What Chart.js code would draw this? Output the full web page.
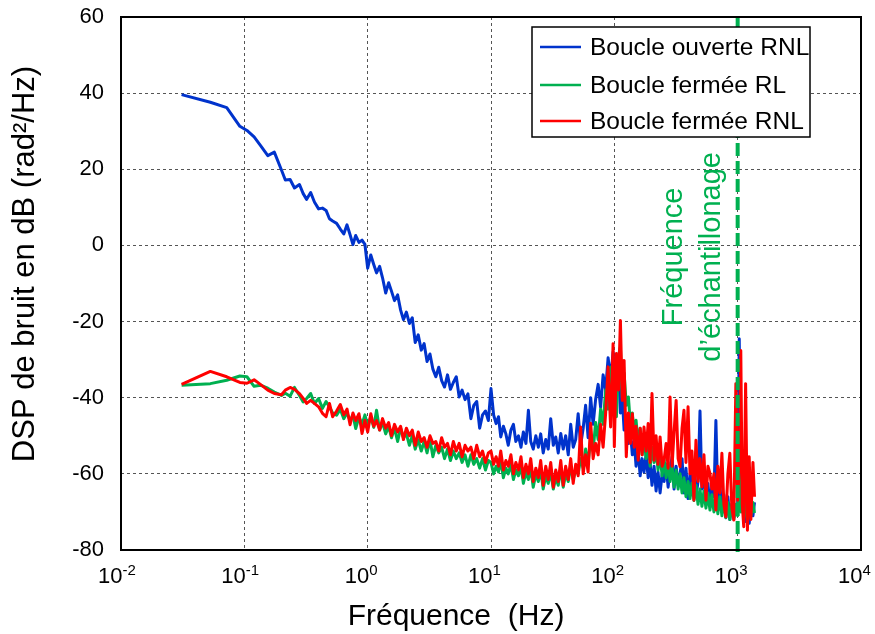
<!DOCTYPE html>
<html>
<head>
<meta charset="utf-8">
<script src="https://cdn.jsdelivr.net/npm/chart.js@4.4.1/dist/chart.umd.min.js"></script>
<style>
  html, body { margin: 0; padding: 0; background: #fff; }
  #wrap { width: 875px; height: 634px; position: relative; }
</style>
</head>
<body>
<div id="wrap"><canvas id="dspChart"></canvas></div>
<script>
const FONT = "'Liberation Sans', Arial, Helvetica, sans-serif";

// ═══════════════════════════════════════════
// DATA (Hz / dB)
// ═══════════════════════════════════════════
const freqHz = [
  // 0.03 – 1 Hz
  0.031, 0.053, 0.072, 0.092, 0.105, 0.12, 0.135, 0.155, 0.175, 0.2,
  0.215, 0.235, 0.255, 0.28, 0.3, 0.32, 0.345, 0.37, 0.4, 0.43,
  0.46, 0.49, 0.52, 0.56, 0.6, 0.64, 0.68, 0.72, 0.76, 0.8,
  0.85, 0.9, 0.95,
  // 1 – 10 Hz
  1.0, 1.06, 1.12, 1.18, 1.25, 1.32, 1.4, 1.48, 1.56, 1.65,
  1.75, 1.85, 1.95, 2.06, 2.18, 2.3, 2.43, 2.57, 2.72, 2.87,
  3.03, 3.2, 3.38, 3.57, 3.77, 3.98, 4.2, 4.44, 4.69, 4.95,
  5.23, 5.52, 5.83, 6.16, 6.5, 6.87, 7.25, 7.66, 8.09, 8.54,
  9.02, 9.52,
  // 10 – 100 Hz
  10, 10.5, 11, 11.5, 12, 12.6, 13.2, 13.8, 14.5, 15.2,
  15.9, 16.7, 17.5, 18.3, 19.2, 20.1, 21, 22, 23.1, 24.2,
  25.3, 26.5, 27.8, 29.1, 30.5, 32, 33.5, 35.1, 36.8, 38.5,
  40.3, 42.3, 44.3, 46.4, 48.6, 50.9, 53.3, 55.9, 58.5, 61.3,
  64.3, 67.3, 70.5, 73.9, 77.4, 81.1, 85, 89, 93.3, 97.7,
  // 100 – 1400 Hz
  100, 104, 108, 112, 116, 120, 125, 130, 135, 140,
  145, 150, 156, 162, 168, 174, 181, 188, 195, 202,
  210, 218, 226, 235, 244, 253, 263, 273, 283, 294,
  305, 317, 329, 341, 354, 367, 381, 396, 411, 426,
  442, 459, 477, 495, 513, 533, 553, 574, 596, 618,
  642, 666, 691, 718, 745, 773, 802, 833, 864, 897,
  931, 967, 1000, 1030, 1060, 1090, 1120, 1160, 1200, 1240,
  1280, 1330, 1370
];

// Boucle ouverte RNL
const openLoopRNL = [
  39.6, 37.6, 36.2, 31.3, 30.2, 28.5, 26.3, 23.6, 24.5, 19.8,
  17.2, 17.3, 15.1, 16.0, 13.6, 12.1, 13.9, 11.4, 9.6, 9.8,
  9.2, 7.0, 6.4, 5.8, 4.3, 3.0, 5.4, 2.8, 0.2, 2.6,
  0.8, 1.4, 0.3,
  -6.0, -2.5, -5.0, -7.2, -5.5, -8.5, -12.5, -9.8, -12.0, -14.5,
  -13.0, -17.0, -19.5, -17.5, -20.5, -19.0, -25.5, -23.5, -27.5, -25.8,
  -30.5, -28.5, -32.5, -34.5, -32.0, -35.5, -37.2, -34.0, -37.8, -36.0,
  -34.5, -39.8, -38.0, -40.5, -39.0, -45.5, -42.0, -41.0, -48.0, -44.5,
  -43.5, -46.0,
  -37.6, -44.5, -46.8, -45.0, -50.3, -47.5, -49.5, -52.5, -48.5, -47.0,
  -51.5, -50.0, -53.0, -49.0, -52.0, -43.3, -51.5, -53.5, -50.0, -53.0,
  -49.5, -54.5, -51.0, -53.5, -45.5, -52.5, -50.3, -54.5, -49.4, -53.5,
  -50.0, -55.0, -47.0, -53.0, -51.0, -44.2, -52.5, -48.0, -42.0, -50.5,
  -40.0, -47.0, -40.5, -36.5, -42.5, -34.0, -38.0, -29.5, -35.0, -28.0,
  -33.0, -38.0, -30.5, -44.0, -40.0, -48.5, -45.0, -52.0, -49.0, -55.0,
  -51.5, -58.0, -54.0, -60.5, -56.0, -59.5, -55.0, -61.0, -57.0, -63.0,
  -58.0, -64.5, -59.5, -65.0, -60.0, -62.0, -57.5, -63.5, -59.0, -55.5,
  -64.0, -58.0, -63.0, -60.0, -56.0, -65.0, -58.5, -66.5, -60.0, -64.0,
  -57.5, -66.0, -62.0, -43.5, -64.0, -60.0, -67.0, -62.5, -68.5, -63.0,
  -66.0, -46.0, -67.5, -63.0, -70.0, -65.5, -71.5, -66.0, -72.0, -68.0,
  -71.5, -69.0, -68.0, -24.5, -62.0, -70.0, -66.0, -72.5, -67.0, -73.0,
  -68.0, -71.0, -67.5
];

// Boucle fermée RL
const closedLoopRL = [
  -36.7, -36.3, -35.4, -34.3, -34.5, -37.0, -36.7, -37.5, -38.5, -39.4,
  -38.8, -39.6, -37.3, -39.4, -41.1, -40.2, -38.9, -41.5, -40.2, -42.8,
  -41.0, -42.4, -44.0, -44.6, -43.0, -45.5, -44.0, -46.0, -44.5, -48.1,
  -45.0, -47.0, -44.5,
  -47.5, -45.0, -47.8, -43.3, -48.5, -46.5, -49.5, -47.5, -50.5, -48.0,
  -51.5, -48.0, -50.5, -49.5, -52.5, -50.0, -53.5, -51.0, -54.0, -51.5,
  -54.5, -51.0, -55.5, -52.5, -54.5, -53.0, -56.0, -53.5, -56.5, -54.0,
  -56.0, -54.5, -57.0, -55.0, -58.0, -55.0, -57.5, -56.0, -58.5, -56.0,
  -59.0, -56.5,
  -57.0, -60.0, -58.0, -59.5, -56.5, -61.0, -58.5, -60.0, -57.5, -61.5,
  -59.0, -60.5, -58.0, -62.5, -59.5, -61.5, -58.5, -63.5, -60.0, -62.0,
  -59.0, -64.0, -60.5, -62.5, -59.5, -64.0, -61.0, -63.0, -58.5, -63.5,
  -60.0, -62.0, -58.0, -61.5, -59.0, -60.0, -56.0, -58.5, -53.5, -57.0,
  -51.0, -54.0, -46.5, -51.0, -43.0, -47.0, -38.0, -43.0, -32.0, -40.0,
  -33.0, -45.0, -29.0, -26.7, -40.0, -33.5, -42.0, -39.8, -47.0, -44.0,
  -50.0, -45.9, -52.0, -48.0, -55.0, -50.5, -56.0, -52.0, -58.0, -53.0,
  -57.0, -53.5, -59.0, -55.0, -60.5, -56.0, -61.0, -57.0, -62.0, -58.0,
  -63.5, -59.0, -64.0, -60.0, -65.0, -61.0, -66.0, -62.0, -66.5, -62.5,
  -67.0, -63.0, -68.0, -64.0, -68.5, -64.5, -69.0, -65.0, -69.5, -65.5,
  -70.0, -66.0, -70.5, -66.0, -71.0, -67.0, -71.5, -67.5, -72.0, -68.0,
  -72.0, -68.0, -71.0, -60.0, -70.0, -66.0, -71.5, -66.5, -72.0, -67.0,
  -71.0, -67.5, -70.3
];

// Boucle fermée RNL
const closedLoopRNL = [
  -36.5, -33.1, -34.5, -36.0, -36.2, -35.3, -36.5, -38.0, -38.9, -39.2,
  -38.0, -37.3, -37.8, -38.9, -40.2, -41.5, -40.7, -41.5, -42.4, -44.1,
  -45.0, -41.5, -45.0, -43.5, -41.8, -44.5, -43.0, -47.1, -44.0, -46.0,
  -44.2, -49.4, -46.0,
  -49.0, -44.2, -47.5, -46.0, -48.5, -45.5, -48.0, -46.5, -50.0, -47.0,
  -49.0, -47.5, -51.0, -48.0, -50.0, -48.5, -52.5, -49.0, -51.5, -50.5,
  -53.0, -50.0, -52.0, -51.5, -54.0, -50.5, -53.0, -52.0, -55.0, -51.5,
  -54.0, -52.0, -55.5, -52.5, -54.0, -53.0, -56.0, -52.5, -55.5, -54.0,
  -57.0, -54.5,
  -54.0, -57.5, -55.5, -58.0, -54.0, -59.0, -56.5, -58.0, -55.0, -60.0,
  -57.0, -59.0, -55.5, -61.0, -57.5, -60.0, -56.0, -62.0, -58.5, -61.0,
  -56.5, -63.0, -58.0, -61.5, -57.0, -63.5, -59.0, -62.0, -56.5, -63.0,
  -58.0, -61.5, -56.0, -62.5, -57.5, -60.5, -47.7, -60.0, -55.0, -59.5,
  -46.7, -56.0, -52.0, -55.0, -47.0, -53.0, -44.2, -31.9, -47.7, -25.8,
  -52.9, -28.4, -38.0, -19.7, -40.7, -30.2, -55.5, -44.0, -52.0, -44.2,
  -53.0, -47.5, -56.4, -48.0, -55.0, -47.7, -54.0, -46.8, -57.0, -38.9,
  -56.4, -50.0, -57.5, -50.3, -58.0, -56.4, -52.0, -58.5, -39.8, -58.0,
  -49.0, -40.7, -56.0, -58.1, -48.0, -43.3, -57.0, -42.4, -60.0, -54.0,
  -66.9, -51.2, -62.0, -56.0, -63.4, -55.0, -66.9, -58.0, -59.9, -64.0,
  -60.0, -69.5, -58.0, -65.0, -54.6, -68.0, -71.3, -60.0, -54.6, -69.0,
  -72.1, -36.3, -66.9, -58.0, -27.6, -68.0, -73.9, -36.3, -74.8, -55.5,
  -72.0, -57.0, -66.0
];

const seriesLabels = ['Boucle ouverte RNL', 'Boucle fermée RL', 'Boucle fermée RNL'];
const seriesColors = ['#0033CC', '#00B050', '#FF0000'];

const xTickValues = [0.01, 0.1, 1, 10, 100, 1000, 10000];
const xTickExponents = ['-2', '-1', '0', '1', '2', '3', '4'];
const yMin = -80, yMax = 60, yStep = 20;

const samplingFreqHz = 1000;
const samplingLineDb = [60, -81.5];
const samplingLabel = ['Fréquence', 'd’échantillonage'];
const xTitle = 'Fréquence  (Hz)';
const yTitle = 'DSP de bruit en dB (rad²/Hz)';

// ═══════════════════════════════════════════
// DATASETS
// ═══════════════════════════════════════════
const toPoints = vals => freqHz.map((f, i) => ({ x: f, y: vals[i] }));
const seriesValues = [openLoopRNL, closedLoopRL, closedLoopRNL];

const datasets = seriesValues.map((vals, i) => ({
  label: seriesLabels[i],
  data: toPoints(vals),
  borderColor: seriesColors[i],
  backgroundColor: seriesColors[i],
  borderWidth: 3,
  borderJoinStyle: 'round',
  pointRadius: 0,
  tension: 0,
  order: 3 - i   // red on top, blue underneath
}));

// sampling frequency marker (dashed green vertical)
datasets.push({
  label: 'fe',
  data: samplingLineDb.map(v => ({ x: samplingFreqHz, y: v })),
  borderColor: '#00B050',
  borderWidth: 4,
  borderDash: [13, 5],
  pointRadius: 0,
  clip: false,
  order: 0
});

// frame, tick labels with exponents, titles, annotation, legend box
const decorations = {
  id: 'decorations',
  afterDatasetsDraw(chart) {
    const { ctx, chartArea: a, scales: { x, y } } = chart;
    ctx.save();

    // plot frame
    ctx.strokeStyle = '#000';
    ctx.lineWidth = 2;
    ctx.strokeRect(a.left, a.top, a.right - a.left, a.bottom - a.top);

    // x tick labels: 10^n
    ctx.fillStyle = '#000';
    ctx.textBaseline = 'alphabetic';
    xTickValues.forEach((v, i) => {
      const px = x.getPixelForValue(v);
      ctx.font = `22px ${FONT}`;
      ctx.textAlign = 'right';
      ctx.fillText('10', px + 1.5, a.bottom + 33);
      ctx.font = `15px ${FONT}`;
      ctx.textAlign = 'left';
      ctx.fillText(xTickExponents[i], px + 1.5, a.bottom + 25);
    });

    // axis titles
    ctx.textAlign = 'center';
    ctx.textBaseline = 'middle';
    ctx.font = `30px ${FONT}`;
    ctx.fillText(xTitle, 456, a.bottom + 67);
    ctx.save();
    ctx.translate(25, 264);
    ctx.rotate(-Math.PI / 2);
    ctx.font = `31px ${FONT}`;
    ctx.fillText(yTitle, 0, 0);
    ctx.restore();

    // "Fréquence d'échantillonage" annotation
    const fx = x.getPixelForValue(samplingFreqHz);
    const fy = y.getPixelForValue(-3);
    ctx.save();
    ctx.translate(fx, fy);
    ctx.rotate(-Math.PI / 2);
    ctx.fillStyle = '#00B050';
    ctx.font = `29px ${FONT}`;
    ctx.textAlign = 'center';
    ctx.textBaseline = 'alphabetic';
    ctx.fillText(samplingLabel[0], 0, -56);
    ctx.fillText(samplingLabel[1], 0, -18);
    ctx.restore();

    // legend box inside the plot
    const lx = a.right - 329, ly = a.top + 10, bw = 278, bh = 110;
    const rows = [20, 58, 94];
    ctx.fillStyle = '#fff';
    ctx.fillRect(lx, ly, bw, bh);
    ctx.textAlign = 'left';
    ctx.textBaseline = 'middle';
    ctx.font = `24.5px ${FONT}`;
    seriesLabels.forEach((lab, i) => {
      const ry = ly + rows[i];
      ctx.strokeStyle = seriesColors[i];
      ctx.lineWidth = 2.5;
      ctx.beginPath();
      ctx.moveTo(lx + 8, ry);
      ctx.lineTo(lx + 49, ry);
      ctx.stroke();
      ctx.fillStyle = '#000';
      ctx.fillText(lab, lx + 58, ry + 1);
    });
    ctx.strokeStyle = '#000';
    ctx.lineWidth = 1.5;
    ctx.strokeRect(lx, ly, bw, bh);

    ctx.restore();
  }
};

const gridOpts = { color: '#555', lineWidth: 1, drawTicks: false };
const borderOpts = { display: false, dash: [3, 3] };

new Chart(document.getElementById('dspChart'), {
  type: 'line',
  data: { datasets },
  options: {
    responsive: true,
    maintainAspectRatio: false,
    animation: false,
    layout: { padding: { top: 17, right: 14, left: 0, bottom: 0 } },
    plugins: {
      legend: { display: false },
      tooltip: { enabled: false }
    },
    scales: {
      x: {
        type: 'logarithmic',
        min: xTickValues[0],
        max: xTickValues[xTickValues.length - 1],
        afterBuildTicks: s => { s.ticks = xTickValues.map(v => ({ value: v })); },
        afterFit: s => { s.height = 84; s.paddingLeft = 0; s.paddingRight = 0; },
        ticks: { display: false },
        grid: gridOpts,
        border: borderOpts
      },
      y: {
        type: 'linear',
        min: yMin,
        max: yMax,
        afterFit: s => { s.width = 121; s.paddingTop = 0; s.paddingBottom = 0; },
        ticks: {
          stepSize: yStep,
          color: '#000',
          padding: 17,
          font: { size: 22, family: FONT }
        },
        grid: gridOpts,
        border: borderOpts
      }
    }
  },
  plugins: [decorations]
});
</script>
</body>
</html>
